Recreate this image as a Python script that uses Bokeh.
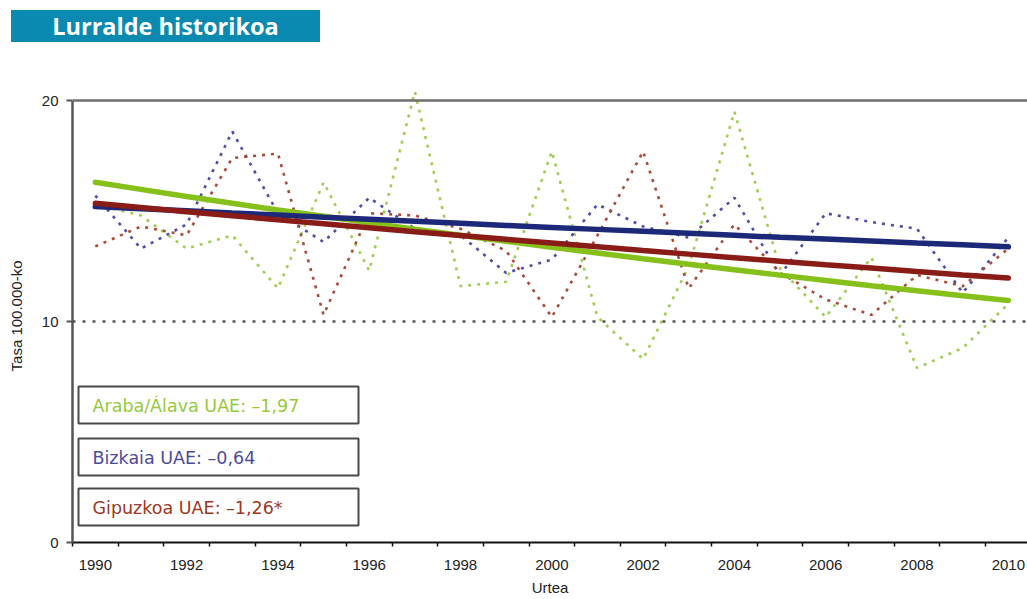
from bokeh.plotting import figure
from bokeh.models import Range1d, FixedTicker, Span, BoxAnnotation, Label, Div
from bokeh.layouts import column
from bokeh.embed import file_html
from bokeh.resources import INLINE

years = [1990, 1991, 1992, 1993, 1994, 1995, 1996, 1997, 1998, 1999, 2000,
         2001, 2002, 2003, 2004, 2005, 2006, 2007, 2008, 2009, 2010]

# observed rates (dotted)
araba = [15.3, 14.8, 13.3, 13.9, 11.5, 16.3, 12.3, 20.4, 11.6, 11.8, 17.7,
         10.2, 8.3, 12.5, 19.5, 12.4, 10.2, 12.9, 7.9, 8.8, 10.8]
bizkaia = [15.7, 13.3, 14.4, 18.6, 14.9, 13.6, 15.6, 14.2, 13.9, 12.2, 12.8,
           15.3, 14.3, 13.8, 15.6, 12.1, 14.9, 14.5, 14.2, 11.3, 13.8]
gipuzkoa = [13.4, 14.3, 13.9, 17.4, 17.6, 10.3, 14.9, 14.8, 14.2, 13.2, 10.2,
            13.9, 17.7, 11.5, 14.4, 12.2, 11.0, 10.3, 12.1, 11.6, 13.3]

# fitted trends (solid)
araba_trend = [16.30, 15.98, 15.66, 15.35, 15.05, 14.76, 14.47, 14.18, 13.90, 13.63, 13.36,
               13.10, 12.84, 12.59, 12.34, 12.10, 11.86, 11.62, 11.39, 11.17, 10.95]
bizkaia_trend = [15.20, 15.10, 15.01, 14.91, 14.82, 14.72, 14.63, 14.54, 14.45, 14.35, 14.26,
                 14.17, 14.08, 13.99, 13.90, 13.81, 13.73, 13.64, 13.55, 13.47, 13.38]
gipuzkoa_trend = [15.35, 15.16, 14.97, 14.79, 14.60, 14.42, 14.24, 14.06, 13.89, 13.72, 13.55,
                  13.38, 13.21, 13.05, 12.89, 12.73, 12.57, 12.42, 12.26, 12.11, 11.97]

x_ticks = [1990, 1992, 1994, 1996, 1998, 2000, 2002, 2004, 2006, 2008, 2010]
x_minor_ticks = [1989.5 + i for i in range(22)]
y_ticks = [0, 10, 20]

legend_texts = ["Araba/Álava UAE: –1,97", "Bizkaia UAE: –0,64", "Gipuzkoa UAE: –1,26*"]
legend_colors = ["#97c83c", "#4b4b9e", "#9a3826"]

title_text = "Lurralde historikoa"

GREEN_DOT, GREEN_TREND = "#a2cc55", "#86c01a"
BLUE_DOT, BLUE_TREND = "#4e4ea4", "#1c2878"
RED_DOT, RED_TREND = "#a94c3a", "#8a1c17"

X0, X1 = 1989.5, 2010.42
Y0, Y1 = 0, 20.5
FRAME_W, FRAME_H = 955, 453

p = figure(width=1027, height=557,
           x_range=Range1d(X0, X1), y_range=Range1d(Y0, Y1),
           output_backend="svg", toolbar_location=None,
           min_border_left=72, min_border_right=0, min_border_top=47, min_border_bottom=57)

p.outline_line_color = None
p.xgrid.visible = False
p.ygrid.visible = False
p.background_fill_color = "white"
p.border_fill_color = "white"

# top border and reference line
p.add_layout(Span(location=20, dimension="width", line_color="#6e6e6e", line_width=2.5))
p.add_layout(Span(location=10, dimension="width", line_color="#555555", line_width=2.5,
                  line_dash="3 7"))

# dotted observed series
for ys, c in [(araba, GREEN_DOT), (bizkaia, BLUE_DOT), (gipuzkoa, RED_DOT)]:
    p.line(years, ys, line_color=c, line_width=2.6, line_dash="3 6")

# trends
for ys, c in [(araba_trend, GREEN_TREND), (bizkaia_trend, BLUE_TREND), (gipuzkoa_trend, RED_TREND)]:
    p.line(years, ys, line_color=c, line_width=5.5, line_cap="round")

# legend-like boxes
px_per_year = FRAME_W / (X1 - X0)
px_per_unit = FRAME_H / (Y1 - Y0)
def xd(px):
    return X0 + px / px_per_year
def yd(px):
    return Y1 - px / px_per_unit
box_tops = [386 - 89, 438 - 89, 488 - 89]
for i, txt in enumerate(legend_texts):
    top = box_tops[i]
    p.add_layout(BoxAnnotation(left=xd(6), right=xd(286), top=yd(top), bottom=yd(top + 37),
                               fill_color="white", fill_alpha=1.0,
                               line_color="#4a4a4a", line_width=2, line_alpha=1.0))
    p.add_layout(Label(x=xd(20), y=yd(top + 19), text=txt, text_color=legend_colors[i],
                       text_font="DejaVu Sans", text_font_size="17.5px",
                       text_baseline="middle", text_align="left"))

# axes
xa = p.xaxis[0]
xa.ticker = FixedTicker(ticks=x_ticks, minor_ticks=x_minor_ticks)
xa.axis_line_color = "#111111"
xa.axis_line_width = 2
xa.major_tick_line_color = None
xa.major_tick_out = 4
xa.major_tick_in = 0
xa.minor_tick_line_color = "#111111"
xa.minor_tick_line_width = 1.5
xa.minor_tick_out = 4
xa.minor_tick_in = 0
xa.major_label_text_font = "Liberation Sans"
xa.major_label_text_font_size = "15px"
xa.major_label_text_color = "#222222"
xa.major_label_standoff = 13
xa.axis_label = "Urtea"
xa.axis_label_text_font = "Liberation Sans"
xa.axis_label_text_font_size = "15px"
xa.axis_label_text_font_style = "normal"
xa.axis_label_text_color = "#222222"
xa.axis_label_standoff = 6

ya = p.yaxis[0]
ya.ticker = FixedTicker(ticks=y_ticks, minor_ticks=[])
ya.bounds = (0, 20)
ya.axis_line_color = "#555555"
ya.axis_line_width = 2.5
ya.major_tick_line_color = "#555555"
ya.major_tick_line_width = 2
ya.major_tick_out = 6
ya.major_tick_in = 0
ya.minor_tick_line_color = None
ya.major_label_text_font = "Liberation Sans"
ya.major_label_text_font_size = "15px"
ya.major_label_text_color = "#222222"
ya.major_label_standoff = 8
ya.axis_label = "Tasa 100.000-ko"
ya.axis_label_text_font = "Liberation Sans"
ya.axis_label_text_font_size = "15px"
ya.axis_label_text_font_style = "normal"
ya.axis_label_text_color = "#222222"
ya.axis_label_standoff = 14

title = Div(
    text=('<div style="margin:10px 0 0 11px;width:309px;height:32px;background:#0a8ab0;'
          'color:#ffffff;font-family:\'Open Sans\';font-weight:bold;font-size:23.5px;'
          'line-height:32px;text-align:center;white-space:nowrap;">' + title_text + '</div>'),
    width=340, height=42, margin=(0, 0, 0, 0))

layout = column(title, p, spacing=0)

open("out.html", "w").write(file_html(layout, INLINE))
